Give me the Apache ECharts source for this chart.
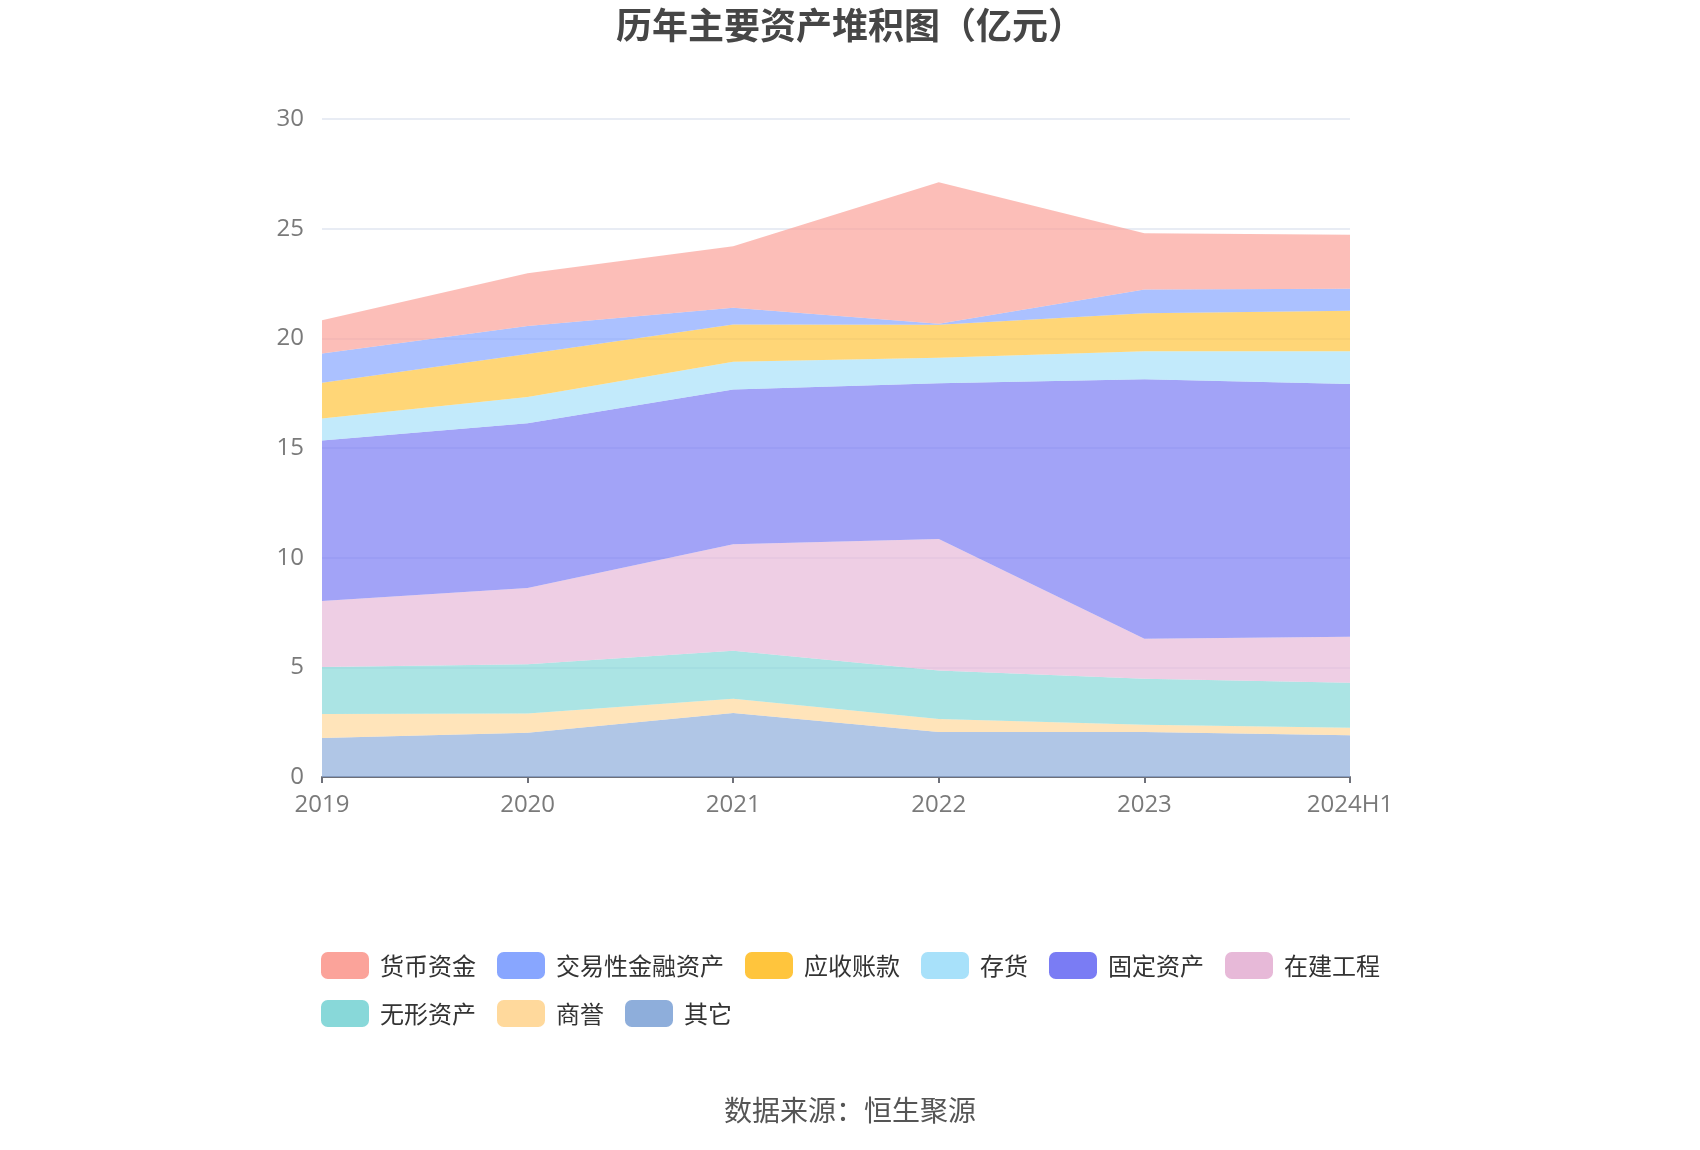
<!DOCTYPE html>
<html>
<head>
<meta charset="utf-8">
<script src="https://cdn.jsdelivr.net/npm/echarts@6/dist/echarts.min.js"></script>
<style>
html,body{margin:0;padding:0;background:#fff;}
#chart{width:1700px;height:1150px;}
</style>
</head>
<body>
<div id="chart"></div>
<script>
const years = ['2019', '2020', '2021', '2022', '2023', '2024H1'];
const qita      = [1.78, 2.02, 2.92, 2.05, 2.05, 1.90];   // 其它
const shangyu   = [1.09, 0.88, 0.65, 0.60, 0.33, 0.35];   // 商誉
const wuxing    = [2.15, 2.24, 2.19, 2.20, 2.10, 2.05];   // 无形资产
const zaijian   = [3.00, 3.48, 4.85, 6.00, 1.82, 2.10];   // 在建工程
const guding    = [7.32, 7.51, 7.06, 7.10, 11.83, 11.52]; // 固定资产
const cunhuo    = [1.01, 1.20, 1.26, 1.17, 1.28, 1.49];   // 存货
const yingshou  = [1.62, 1.96, 1.70, 1.50, 1.73, 1.85];   // 应收账款
const jiaoyi    = [1.34, 1.27, 0.76, 0.05, 1.09, 1.00];   // 交易性金融资产
const huobi     = [1.51, 2.41, 2.81, 6.45, 2.56, 2.46];   // 货币资金
const yTicks = [0, 5, 10, 15, 20, 25, 30];

const legendOrder = ['货币资金','交易性金融资产','应收账款','存货','固定资产','在建工程','无形资产','商誉','其它'];
const stackDefs = [
  ['其它', qita, '#8EAEDB'],
  ['商誉', shangyu, '#FFD99C'],
  ['无形资产', wuxing, '#88D8D9'],
  ['在建工程', zaijian, '#E7B9D8'],
  ['固定资产', guding, '#7A7CF4'],
  ['存货', cunhuo, '#A8E1FA'],
  ['应收账款', yingshou, '#FFC53D'],
  ['交易性金融资产', jiaoyi, '#88A6FF'],
  ['货币资金', huobi, '#FBA39A']
];

const chart = echarts.init(document.getElementById('chart'));
const FONT = '"Noto Sans CJK SC", "Noto Sans", sans-serif';
chart.setOption({
  animation: false,
  textStyle: { fontFamily: FONT },
  title: {
    text: '历年主要资产堆积图（亿元）',
    left: 'center', top: 2,
    textStyle: { fontSize: 36, fontWeight: 'bold', color: '#464646', fontFamily: FONT }
  },
  graphic: [{
    type: 'text', left: 'center', top: 1096,
    style: { text: '数据来源：恒生聚源', fontSize: 28, fill: '#555', fontFamily: FONT }
  }],
  legend: {
    data: legendOrder,
    left: 316, top: 947, width: 1100,
    itemWidth: 48, itemHeight: 27, itemGap: 21,
    itemStyle: { borderRadius: 7 },
    textStyle: { fontSize: 24, color: '#333', fontFamily: FONT, padding: [0, 0, 0, 6] },
    icon: 'roundRect'
  },
  grid: { left: 322, right: 350, top: 119, bottom: 373, containLabel: false },
  xAxis: {
    type: 'category', data: years, boundaryGap: false,
    axisLine: { lineStyle: { color: '#6E7079', width: 2 } },
    axisTick: { alignWithLabel: true, length: 6, lineStyle: { color: '#6E7079', width: 2 } },
    axisLabel: { fontSize: 24, color: '#7A7A7A', margin: 16, fontFamily: '"Open Sans", "Noto Sans", sans-serif' }
  },
  yAxis: {
    type: 'value', min: 0, max: 30, interval: 5,
    axisLine: { show: false }, axisTick: { show: false },
    axisLabel: { fontSize: 24, color: '#7A7A7A', margin: 18, fontFamily: '"Open Sans", "Noto Sans", sans-serif' },
    splitLine: { lineStyle: { color: '#E0E6F1', width: 1.5 } }
  },
  series: stackDefs.map(([name, data, color]) => ({
    name, type: 'line', stack: 'total', data,
    symbol: 'none', showSymbol: false,
    itemStyle: { color },
    lineStyle: { width: 0, color },
    areaStyle: { color, opacity: 0.7 }
  }))
});
</script>
</body>
</html>
